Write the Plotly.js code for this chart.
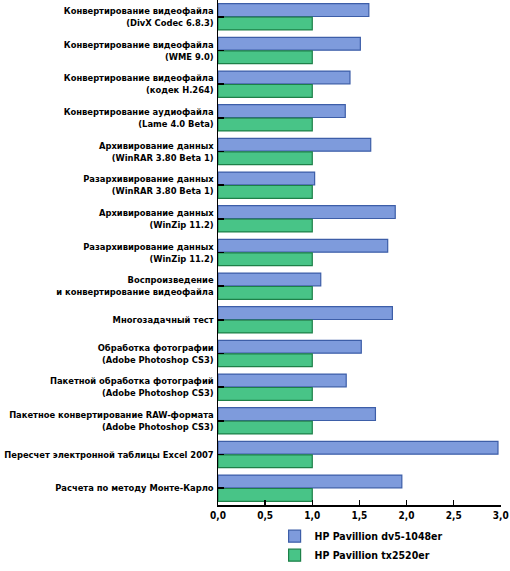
<!DOCTYPE html>
<html><head><meta charset="utf-8">
<script src="https://cdn.plot.ly/plotly-3.0.1.min.js"></script>
<style>body{margin:0;padding:0;background:#fff}#chart{width:510px;height:571px}</style>
</head><body><div id="chart"></div>
<script>
const categories = [
  "Конвертирование видеофайла<br>(DivX Codec 6.8.3)",
  "Конвертирование видеофайла<br>(WME 9.0)",
  "Конвертирование видеофайла<br>(кодек H.264)",
  "Конвертирование аудиофайла<br>(Lame 4.0 Beta)",
  "Архивирование данных<br>(WinRAR 3.80 Beta 1)",
  "Разархивирование данных<br>(WinRAR 3.80 Beta 1)",
  "Архивирование данных<br>(WinZip 11.2)",
  "Разархивирование данных<br>(WinZip 11.2)",
  "Воспроизведение<br>и конвертирование видеофайла",
  "Многозадачный тест",
  "Обработка фотографии<br>(Adobe Photoshop CS3)",
  "Пакетной обработка фотографий<br>(Adobe Photoshop CS3)",
  "Пакетное конвертирование RAW-формата<br>(Adobe Photoshop CS3)",
  "Пересчет электронной таблицы Excel 2007",
  "Расчета по методу Монте-Карло"
];
const seriesNames = ["HP Pavillion dv5-1048er", "HP Pavillion tx2520er"];
const dv5Values = [1.60, 1.51, 1.40, 1.35, 1.62, 1.025, 1.88, 1.80, 1.09, 1.85, 1.52, 1.36, 1.67, 2.97, 1.95];
const tx2520Values = [1, 1, 1, 1, 1, 1, 1, 1, 1, 1, 1, 1, 1, 1, 1];
const tickVals = [0, 0.5, 1, 1.5, 2, 2.5, 3];
const tickText = ["0,0", "0,5", "1,0", "1,5", "2,0", "2,5", "3,0"];

const FONT = "'DejaVu Sans Condensed', 'Liberation Sans Narrow', sans-serif";

const traces = [
  {type:'bar', orientation:'h', name:seriesNames[0], y:categories, x:dv5Values,
   marker:{color:'#7e9bdc', line:{color:'#3d5ea8', width:1.2}}},
  {type:'bar', orientation:'h', name:seriesNames[1], y:categories, x:tx2520Values,
   marker:{color:'#48c487', line:{color:'#1d8048', width:1.2}}}
];
const layout = {
  width:510, height:571,
  margin:{l:218, r:9, t:0, b:66},
  paper_bgcolor:'#fff', plot_bgcolor:'#fff',
  barmode:'group', bargap:0.2, bargroupgap:0.05,
  font:{family:FONT, size:10, color:'#000', weight:'bold'},
  showlegend:true,
  legend:{orientation:'v', x:0.2, xanchor:'left', y:-0.128, yanchor:'bottom',
          font:{family:FONT, size:10.5, color:'#000', weight:'bold'},
          traceorder:'normal', tracegroupgap:0, itemwidth:30,
          bgcolor:'rgba(0,0,0,0)'},
  xaxis:{range:[0,3.002], tickvals:tickVals, ticktext:tickText, showgrid:false, zeroline:false,
         showline:true, linecolor:'#000', linewidth:1.5, ticks:'inside', ticklen:5, tickwidth:1.5,
         tickcolor:'#000', tickfont:{family:FONT, size:10, weight:'bold'}, fixedrange:true,
         ticklabeloverflow:'allow'},
  yaxis:{autorange:'reversed', showgrid:false, zeroline:false, showline:true, linecolor:'#000',
         linewidth:1.5, ticks:'inside', ticklen:6, tickwidth:1.5, tickcolor:'#000',
         tickfont:{family:FONT, size:9.3, weight:'bold'}, ticklabelstandoff:1}
};
Plotly.newPlot('chart', traces, layout, {displayModeBar:false, staticPlot:true});
</script></body></html>
